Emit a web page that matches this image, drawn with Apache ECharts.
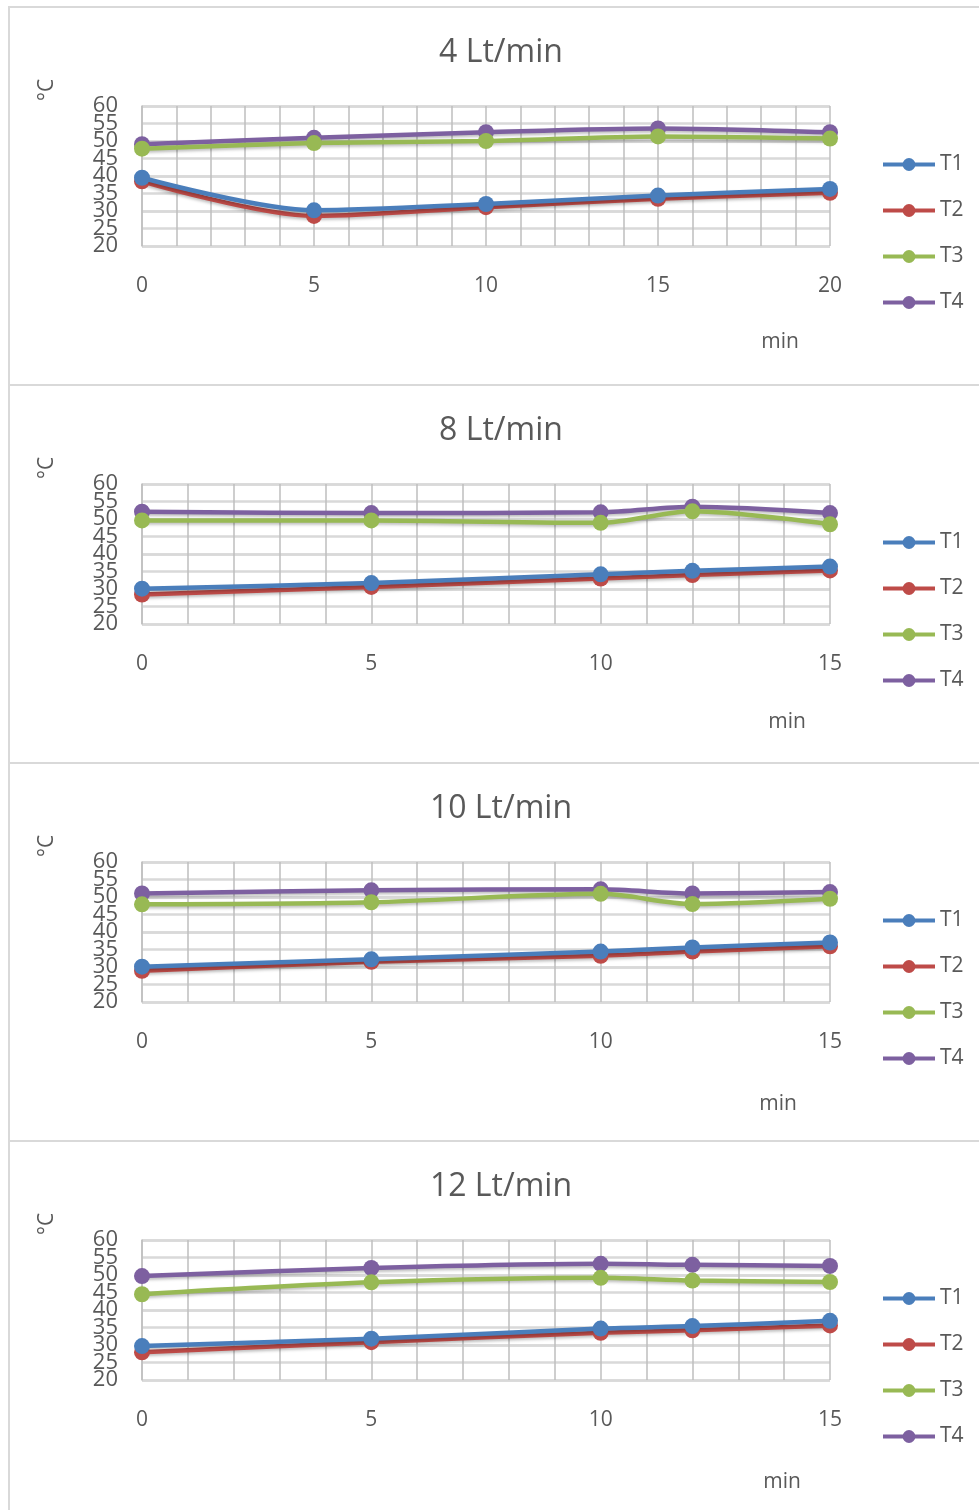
<!DOCTYPE html>
<html>
<head>
<meta charset="utf-8">
<script src="https://cdn.jsdelivr.net/npm/echarts@6/dist/echarts.min.js"></script>
<style>
  body { margin: 0; background: #fff; width: 979px; height: 1510px; overflow: hidden; position: relative; }
  .chart-item {
    position: absolute;
    left: 8px;
    width: 980px;
    height: 378px;
    box-sizing: border-box;
    border-left: 2px solid #d9d9d9;
    border-top: 2px solid #d9d9d9;
  }
</style>
</head>
<body>
<div class="chart-item" id="c1" style="top:6px"></div>
<div class="chart-item" id="c2" style="top:384px"></div>
<div class="chart-item" id="c3" style="top:762px"></div>
<div class="chart-item" id="c4" style="top:1140px"></div>
<script>
// time axes (min)
const time4 = [0, 5, 10, 15, 20];
const time8 = [0, 5, 10, 12, 15];
const time10 = [0, 5, 10, 12, 15];
const time12 = [0, 5, 10, 12, 15];

// 4 Lt/min
const t1_4 = [39.5, 30.2, 32.0, 34.4, 36.3];
const t2_4 = [38.5, 28.6, 31.1, 33.5, 35.2];
const t3_4 = [47.8, 49.4, 50.0, 51.3, 50.7];
const t4_4 = [49.1, 50.9, 52.5, 53.6, 52.5];

// 8 Lt/min
const t1_8 = [30.1, 31.7, 34.2, 35.2, 36.4];
const t2_8 = [28.4, 30.6, 33.0, 34.0, 35.3];
const t3_8 = [49.6, 49.6, 48.9, 52.2, 48.5];
const t4_8 = [52.1, 51.7, 51.9, 53.5, 51.7];

// 10 Lt/min
const t1_10 = [30.1, 32.2, 34.4, 35.6, 37.0];
const t2_10 = [28.9, 31.5, 33.2, 34.4, 35.9];
const t3_10 = [47.9, 48.5, 50.9, 48.0, 49.5];
const t4_10 = [51.0, 51.9, 52.2, 51.0, 51.4];

// 12 Lt/min
const t1_12 = [29.7, 31.8, 34.7, 35.4, 36.9];
const t2_12 = [27.9, 30.8, 33.5, 34.2, 35.6];
const t3_12 = [44.5, 47.9, 49.2, 48.4, 48.0];
const t4_12 = [49.7, 52.0, 53.2, 52.9, 52.6];

const seriesNames = ['T1', 'T2', 'T3', 'T4'];
const colors = ['#4a7ebb', '#be4b48', '#98b954', '#7d60a0'];

const FONT = "'Open Sans', 'Noto Sans', sans-serif";
const TEXT = '#595959';

const yLabel = { margin: 24, fontFamily: FONT, fontSize: 22, color: TEXT };

const initChart = (el, cfg) => {
  const chart = echarts.init(el);
  const series = cfg.values.map((vals, i) => ({
    name: seriesNames[i],
    type: 'line',
    smooth: 0.3,
    symbol: 'circle',
    symbolSize: 16,
    yAxisIndex: 0,
    data: cfg.time.map((t, k) => [t, vals[k]]),
    lineStyle: { width: 4.5, color: colors[i], shadowColor: 'rgba(0,0,0,0.25)', shadowBlur: 3, shadowOffsetY: 2 },
    itemStyle: { color: colors[i] },
    z: 10 - i
  }));
  chart.setOption({
    animation: false,
    color: colors,
    title: {
      text: cfg.title,
      left: 486,
      top: 24,
      textAlign: 'center',
      textStyle: { fontFamily: FONT, fontSize: 32, fontWeight: 'normal', color: TEXT }
    },
    legend: {
      orient: 'vertical',
      left: 866,
      top: 141,
      itemWidth: 52,
      itemHeight: 16,
      itemGap: 25,
      data: seriesNames,
      lineStyle: { width: 4 },
      textStyle: { fontFamily: FONT, fontSize: 21, color: TEXT }
    },
    grid: { left: 132, top: 98, width: 688, height: 140 },
    xAxis: {
      type: 'value',
      min: 0,
      max: cfg.xMax,
      interval: 5,
      axisLine: { show: false },
      axisTick: { show: false },
      axisLabel: { margin: 30, fontFamily: FONT, fontSize: 21, color: TEXT },
      splitLine: { show: true, lineStyle: { color: '#bfbfbf', width: 1.5 } },
      minorTick: { show: false, splitNumber: 5 },
      minorSplitLine: { show: true, lineStyle: { color: '#bfbfbf', width: 1.5 } }
    },
    yAxis: [
      {
        // main scale: labels 20, 30, ... 60 and all horizontal gridlines
        type: 'value',
        position: 'left',
        min: 20,
        max: 60,
        interval: 10,
        axisLine: { show: true, lineStyle: { color: '#bfbfbf', width: 1.5 } },
        axisTick: { show: false },
        axisLabel: yLabel,
        splitLine: { lineStyle: { color: '#d9d9d9', width: 2.5 } }
      },
      {
        // in-between labels 25, 35, 45, 55 (they overlap, as in the original)
        type: 'value',
        position: 'left',
        offset: 0,
        min: 20,
        max: 60,
        interval: 5,
        axisLine: { show: false },
        axisTick: { show: false },
        axisLabel: Object.assign({}, yLabel, {
          showMinLabel: false,
          showMaxLabel: false,
          formatter: (v) => (v % 10 === 5 ? String(v) : '')
        }),
        splitLine: { show: true, lineStyle: { color: '#d9d9d9', width: 2.5 } }
      }
    ],
    graphic: [
      {
        type: 'text',
        x: cfg.minPos[0],
        y: cfg.minPos[1],
        style: { text: 'min', font: '21px ' + FONT, fill: TEXT, align: 'center', verticalAlign: 'middle' }
      },
      {
        type: 'text',
        x: 37,
        y: 82,
        rotation: Math.PI / 2,
        style: { text: '°C', font: '21px ' + FONT, fill: TEXT, align: 'center', verticalAlign: 'middle' }
      }
    ],
    series: series
  });
};

initChart(document.getElementById('c1'), {
  title: '4 Lt/min', xMax: 20, time: time4,
  values: [t1_4, t2_4, t3_4, t4_4], minPos: [770, 334]
});
initChart(document.getElementById('c2'), {
  title: '8 Lt/min', xMax: 15, time: time8,
  values: [t1_8, t2_8, t3_8, t4_8], minPos: [777, 336]
});
initChart(document.getElementById('c3'), {
  title: '10 Lt/min', xMax: 15, time: time10,
  values: [t1_10, t2_10, t3_10, t4_10], minPos: [768, 340]
});
initChart(document.getElementById('c4'), {
  title: '12 Lt/min', xMax: 15, time: time12,
  values: [t1_12, t2_12, t3_12, t4_12], minPos: [772, 340]
});
</script>
</body>
</html>
